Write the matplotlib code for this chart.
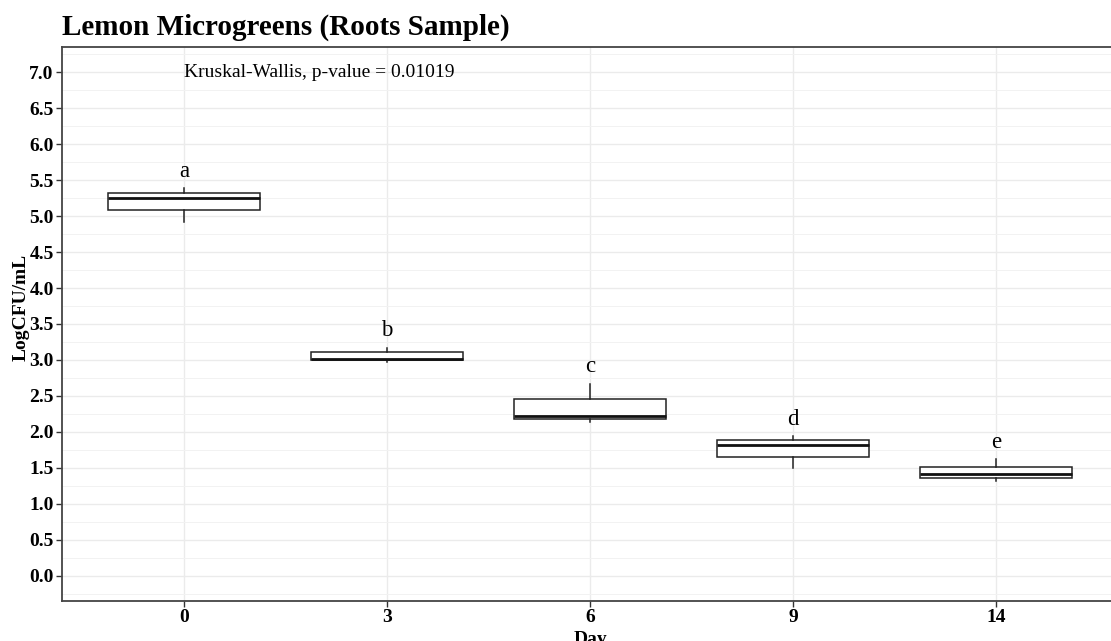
import numpy as np
import matplotlib
matplotlib.use('Agg')
import matplotlib.pyplot as plt
from matplotlib.ticker import MultipleLocator

plt.rcParams['font.family'] = ['Liberation Serif', 'DejaVu Serif']

# Data
days = ['0', '3', '6', '9', '14']
whisker_low = [4.92, 2.97, 2.14, 1.50, 1.32]
q1 = [5.08, 3.00, 2.18, 1.655, 1.365]
medians = [5.245, 3.02, 2.225, 1.825, 1.41]
q3 = [5.325, 3.11, 2.455, 1.885, 1.517]
whisker_high = [5.39, 3.16, 2.67, 1.94, 1.62]
letters = ['a', 'b', 'c', 'd', 'e']
letter_y = [5.55, 3.34, 2.83, 2.10, 1.78]
test_label = 'Kruskal-Wallis, p-value = 0.01019'

fig = plt.figure(figsize=(11.11, 6.41), dpi=100)
ax = fig.add_axes([62 / 1111, 40 / 641, 1056 / 1111, 554 / 641])

# Boxplot stats straight from the read values
stats = []
for i in range(len(days)):
    stats.append({'whislo': whisker_low[i], 'q1': q1[i], 'med': medians[i],
                  'q3': q3[i], 'whishi': whisker_high[i], 'fliers': []})

positions = np.arange(1, len(days) + 1)
ax.bxp(stats, positions=positions, widths=0.75, showcaps=False, showfliers=False,
       patch_artist=True,
       boxprops=dict(facecolor='white', edgecolor='#222222', linewidth=1.1),
       medianprops=dict(color='#111111', linewidth=2.0),
       whiskerprops=dict(color='#222222', linewidth=1.1), zorder=3)

# Significance letters
for x, lab, y in zip(positions, letters, letter_y):
    ax.text(x, y, lab, ha='center', va='baseline', fontsize=16.5, zorder=4)

ax.text(1, 7.0, test_label, ha='left', va='center', fontsize=14, zorder=4)

# Axes styling (ggplot theme_bw-like)
ax.set_xlim(0.4, 5.6)
ax.set_ylim(-0.35, 7.35)
ax.set_xticks(positions)
ax.set_xticklabels(days, fontsize=14, fontweight='bold')
ax.yaxis.set_minor_locator(MultipleLocator(0.25))
ax.set_yticks(np.arange(0, 7.01, 0.5))
ax.set_yticklabels(['%.1f' % v for v in np.arange(0, 7.01, 0.5)],
                   fontsize=14, fontweight='bold')
ax.tick_params(axis='both', which='major', length=4, width=1, color='#333333', pad=2)
ax.tick_params(axis='y', which='minor', length=0)

ax.grid(True, which='major', color='#ebebeb', linewidth=1.0, zorder=0)
ax.grid(True, which='minor', axis='y', color='#f2f2f2', linewidth=0.7, zorder=0)
ax.set_axisbelow(True)

for side in ['left', 'bottom', 'top', 'right']:
    ax.spines[side].set_color('#444444')
    ax.spines[side].set_linewidth(1.3)

ax.set_ylabel('LogCFU/mL', fontsize=14, fontweight='bold')
ax.yaxis.set_label_coords(-0.031, 0.53)
ax.set_xlabel('Day', fontsize=14, fontweight='bold')
ax.xaxis.set_label_coords(0.5, -0.055)

fig.text(62 / 1111, 1 - 35 / 641, 'Lemon Microgreens (Roots Sample)',
         fontsize=21, fontweight='bold', ha='left', va='baseline')

fig.savefig('out.png', dpi=100)
